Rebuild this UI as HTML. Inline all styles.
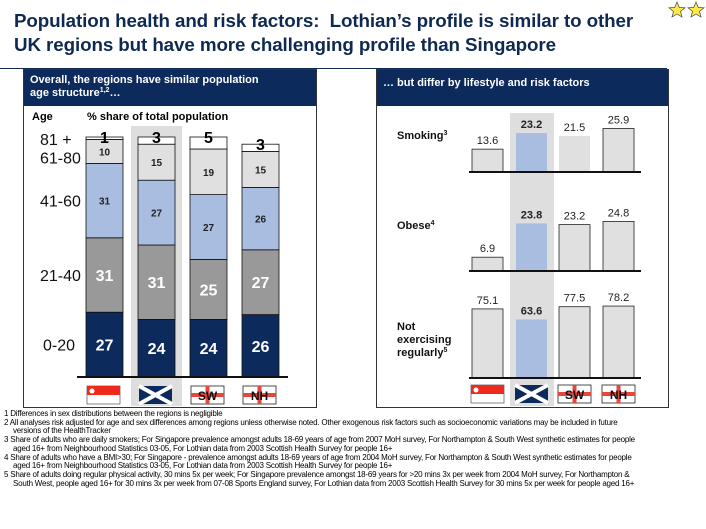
<!DOCTYPE html>
<html><head><meta charset="utf-8">
<style>
body{margin:0;width:706px;height:529px;background:#fff;position:relative;overflow:hidden;font-family:"Liberation Sans",sans-serif;}
.abs{position:absolute;}
#title{left:14px;top:9px;font-size:18.8px;font-weight:bold;color:#0f2a52;line-height:24px;letter-spacing:-0.1px;}
#rule{left:0;top:68px;width:667px;height:1px;background:#0f2a52;}
.panel{position:absolute;border:1px solid #333;top:69px;height:337px;}
.phead{background:#0c2a5c;color:#fff;font-weight:bold;font-size:11px;line-height:13px;padding:4px 6px;height:36px;box-sizing:border-box;}
#foot{left:4px;top:410px;font-size:8px;line-height:8.7px;color:#000;letter-spacing:-0.22px;width:702px;white-space:nowrap;}
#foot .c{padding-left:9px;}
</style></head><body>
<div id="title" class="abs">Population health and risk factors:&nbsp; Lothian’s profile is similar to other<br>UK regions but have more challenging profile than Singapore</div>
<div id="rule" class="abs"></div>
<svg class="abs" style="left:668px;top:1px" width="38" height="18">
<polygon points="9,1 11.3,6.5 17,6.8 12.5,10.5 14,16 9,13 4,16 5.5,10.5 1,6.8 6.7,6.5" fill="#ffe94a" stroke="#444" stroke-width="0.7"/>
<polygon points="28,1 30.3,6.5 36,6.8 31.5,10.5 33,16 28,13 23,16 24.5,10.5 20,6.8 25.7,6.5" fill="#ffe94a" stroke="#444" stroke-width="0.7"/>
</svg>
<div class="panel" style="left:23px;width:292px"><div class="phead">Overall, the regions have similar population<br>age structure<span style="font-size:7px;vertical-align:4px;line-height:0">1,2</span>…</div></div>
<div class="panel" style="left:376px;width:291px"><div class="phead" style="line-height:20px;padding-top:3px">… but differ by lifestyle and risk factors</div></div>
<svg class="abs" style="left:0;top:0" width="706" height="529" id="chart"></svg>
<div id="foot" class="abs">
<div>1 Differences in sex distributions between the regions is negligible</div>
<div>2 All analyses risk adjusted for age and sex differences among regions unless otherwise noted. Other exogenous risk factors such as socioeconomic variations may be included in future</div>
<div class="c">versions of the HealthTracker</div>
<div>3 Share of adults who are daily smokers; For Singapore prevalence amongst adults 18-69 years of age from 2007 MoH survey, For Northampton &amp; South West synthetic estimates for people</div>
<div class="c">aged 16+ from Neighbourhood Statistics 03-05, For Lothian data from 2003 Scottish Health Survey for people 16+</div>
<div>4 Share of adults who have a BMI&gt;30; For Singapore - prevalence amongst adults 18-69 years of age from 2004 MoH survey, For Northampton &amp; South West synthetic estimates for people</div>
<div class="c">aged 16+ from Neighbourhood Statistics 03-05, For Lothian data from 2003 Scottish Health Survey for people 16+</div>
<div>5 Share of adults doing regular physical activity, 30 mins 5x per week; For Singapore prevalence amongst 18-69 years for &gt;20 mins 3x per week from 2004 MoH survey, For Northampton &amp;</div>
<div class="c">South West, people aged 16+ for 30 mins 3x per week from 07-08 Sports England survey, For Lothian data from 2003 Scottish Health Survey for 30 mins 5x per week for people aged 16+</div>
</div>
<script>
const regions=["Singapore","Lothian","South West","Northampton"];
const ageGroups=["0-20","21-40","41-60","61-80","81 +"];
const ageSG=[27,31,31,10,1];
const ageLothian=[24,31,27,15,3];
const ageSW=[24,25,27,19,5];
const ageNH=[26,27,26,15,3];
const smoking=[13.6,23.2,21.5,25.9];
const obese=[6.9,23.8,23.2,24.8];
const notExercising=[75.1,63.6,77.5,78.2];

const NS="http://www.w3.org/2000/svg";
const svg=document.getElementById('chart');
function mk(t,a,txt){const e=document.createElementNS(NS,t);for(const k in a)e.setAttribute(k,a[k]);if(txt!==undefined)e.textContent=txt;svg.appendChild(e);return e;}

const ageData=[ageSG,ageLothian,ageSW,ageNH];
const leftX=[86,138,190,242], barW=37, baseY=377, pxPerPct=2.4;
const yAge=v=>baseY-v*pxPerPct;
let r=mk('rect',{x:131,y:126,width:51,height:280,fill:'#dedede'});

let t=mk('text',{x:32,y:120,'font-size':11,'font-weight':'bold'},'Age');

t=mk('text',{x:87,y:120,'font-size':11,'font-weight':'bold'},'% share of total population');

const segFill=['#0c2a5c','#999999','#a9bde0','#e0e0e0','#ffffff'];
ageData.forEach((d,i)=>{
  let cum=0;
  d.forEach((v,j)=>{
    const y0=yAge(cum),y1=yAge(cum+v);
    const s=mk('rect',{x:leftX[i],y:y1,width:barW,height:y0-y1,fill:segFill[j],stroke:'#111','stroke-width':0.8});
    
    
    let ly,fs,col;
    if(j===4){ly=y1+6;fs=16;col='#000';}
    else if(j<2){ly=(y0+y1)/2+6;fs=16;col='#fff';}
    else{ly=(y0+y1)/2+4;fs=10;col='#222';}
    const lb=mk('text',{x:leftX[i]+barW/2,y:ly,'font-size':fs,'font-weight':'bold',fill:col,'text-anchor':'middle'},String(v));
    
    cum+=v;
  });
});
let cum=0;
ageSG.forEach((v,j)=>{
  let yc=(yAge(cum)+yAge(cum+v))/2+6;
  if(j===3) yc=yAge(cum)-(v*pxPerPct)+24;
  if(j===4) yc=yAge(cum+v)+8;
  const a=mk('text',{x:j===0?43:40,y:yc,'font-size':16,fill:'#111'},ageGroups[j]);
  
  cum+=v;
});
let ax=mk('line',{x1:77,x2:288,y1:baseY,y2:baseY,stroke:'#111','stroke-width':2});


function flag(x,y,w,h,k,side){
  const g=document.createElementNS(NS,'g');svg.appendChild(g);
  
  
  const add=(tg,a,txt)=>{const e=document.createElementNS(NS,tg);for(const q in a)e.setAttribute(q,a[q]);if(txt)e.textContent=txt;g.appendChild(e);};
  if(k===0){add('rect',{x,y,width:w,height:h,fill:'#fff',stroke:'#333','stroke-width':0.6});add('rect',{x,y,width:w,height:h/2,fill:'#ee2a1b'});add('circle',{cx:x+5,cy:y+5,r:2.5,fill:'#fff'});}
  else if(k===1){add('rect',{x,y,width:w,height:h,fill:'#0c2a5c'});add('path',{d:`M${x} ${y}L${x+w} ${y+h}M${x+w} ${y}L${x} ${y+h}`,stroke:'#fff','stroke-width':4});}
  else{add('rect',{x,y,width:w,height:h,fill:'#fff',stroke:'#222','stroke-width':0.8});add('rect',{x,y:y+h/2-2,width:w,height:4,fill:'#e8453c'});add('rect',{x:x+w/2-2,y,width:4,height:h,fill:'#e8453c'});
    add('text',{x:x+w/2,y:y+h-4,'font-size':12,'font-weight':'bold','text-anchor':'middle',fill:'#111'},k===2?'SW':'NH');}
}
leftX.forEach((x,k)=>flag(x+1,386,33,18,k,'left'));

const rightX=[472,516,559,603], rW=31;
r=mk('rect',{x:510,y:113,width:44,height:293,fill:'#dedede'});

const metrics=[{d:smoking,base:172,s:1.68,name:'smoking'},{d:obese,base:271,s:2.0,name:'obese'},{d:notExercising,base:378,s:0.92,name:'not-exercising'}];
metrics.forEach(m=>{
  m.d.forEach((v,i)=>{
    const h=v*m.s;
    const b=mk('rect',{x:rightX[i],y:m.base-h,width:rW,height:h,fill:i===1?'#a9bde0':'#e0e0e0',stroke:(i===1||(m.name==='smoking'&&i===2))?'none':'#222','stroke-width':0.8});
    
    const l=mk('text',{x:rightX[i]+rW/2,y:m.base-h-5,'font-size':11,'text-anchor':'middle','font-weight':i===1?'bold':'normal',fill:'#222'},v.toFixed(1));
    
  });
  const bl=mk('line',{x1:469,x2:641,y1:m.base,y2:m.base,stroke:'#111','stroke-width':2});
  
});
const rl=[["Smoking",139,"3"],["Obese",229,"4"],["Not",330],["exercising",343],["regularly",356,"5"]];
rl.forEach(a=>{const e=mk('text',{x:397,y:a[1],'font-size':11,'font-weight':'bold',fill:'#111'},a[0]);
 if(a[2]){const s=document.createElementNS(NS,'tspan');s.setAttribute('font-size',7);s.setAttribute('dy',-4);s.textContent=a[2];e.appendChild(s);}
 });
rightX.forEach((x,k)=>flag(x-1,385,33,18,k,'right'));
</script>
</body></html>
